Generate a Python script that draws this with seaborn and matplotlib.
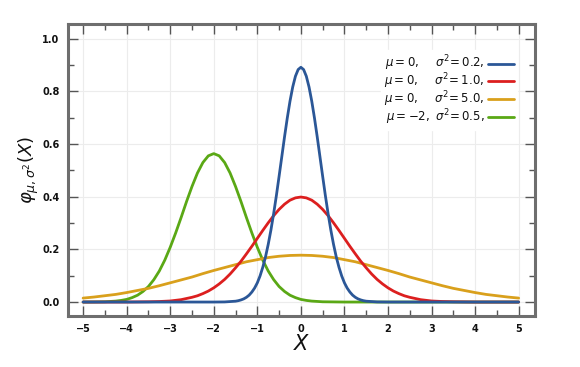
import numpy as np
import pandas as pd
import matplotlib
matplotlib.use('Agg')
import matplotlib.pyplot as plt
from matplotlib.ticker import MultipleLocator
import seaborn as sns

# curve values (denser where the curves bend)
x_blue = [-5.0, -4.0, -3.0, -2.0, -1.75,
          -1.5, -1.4375, -1.375, -1.3125, -1.25, -1.1875, -1.125, -1.0625,
          -1.0, -0.9375, -0.875, -0.8125, -0.75, -0.6875, -0.625, -0.5625,
          -0.5, -0.4375, -0.375, -0.3125, -0.25, -0.1875, -0.125, -0.0625,
          0.0, 0.0625, 0.125, 0.1875, 0.25, 0.3125, 0.375, 0.4375,
          0.5, 0.5625, 0.625, 0.6875, 0.75, 0.8125, 0.875, 0.9375,
          1.0, 1.0625, 1.125, 1.1875, 1.25, 1.3125, 1.375, 1.4375, 1.5,
          1.75, 2.0, 3.0, 4.0, 5.0]
blue_y = [0, 0, 0, 0, 0.0004,
          0.0032, 0.0051, 0.008, 0.012, 0.018, 0.0263, 0.038, 0.0531,
          0.073, 0.0991, 0.132, 0.1713, 0.219, 0.2737, 0.336, 0.4044,
          0.478, 0.5529, 0.628, 0.6988, 0.763, 0.817, 0.858, 0.8834,
          0.892, 0.8834, 0.858, 0.817, 0.763, 0.6988, 0.628, 0.5529,
          0.478, 0.4044, 0.336, 0.2737, 0.219, 0.1713, 0.132, 0.0991,
          0.073, 0.0531, 0.038, 0.0263, 0.018, 0.012, 0.008, 0.0051, 0.0032,
          0.0004, 0, 0, 0, 0]

x_red = [-5.0, -4.5, -4.0, -3.5, -3.25, -3.0, -2.75, -2.5,
         -2.375, -2.25, -2.125, -2.0, -1.875, -1.75, -1.625, -1.5,
         -1.375, -1.25, -1.125, -1.0, -0.875, -0.75, -0.625, -0.5,
         -0.375, -0.25, -0.125, 0.0, 0.125, 0.25, 0.375, 0.5,
         0.625, 0.75, 0.875, 1.0, 1.125, 1.25, 1.375, 1.5,
         1.625, 1.75, 1.875, 2.0, 2.125, 2.25, 2.375,
         2.5, 2.75, 3.0, 3.25, 3.5, 4.0, 4.5, 5.0]
red_y = [0, 0, 0, 0.001, 0.002, 0.004, 0.009, 0.018,
         0.0238, 0.032, 0.0417, 0.054, 0.0688, 0.086, 0.1065, 0.130,
         0.155, 0.183, 0.2119, 0.242, 0.272, 0.301, 0.3281, 0.352,
         0.3718, 0.387, 0.3958, 0.399, 0.3958, 0.387, 0.3718, 0.352,
         0.3281, 0.301, 0.272, 0.242, 0.2119, 0.183, 0.155, 0.130,
         0.1065, 0.086, 0.0688, 0.054, 0.0417, 0.032, 0.0238,
         0.018, 0.009, 0.004, 0.002, 0.001, 0, 0, 0]

x_orange = [-5.0, -4.75, -4.5, -4.25, -4.0, -3.75, -3.5, -3.25, -3.0, -2.75, -2.5, -2.25,
            -2.0, -1.75, -1.5, -1.25, -1.0, -0.75, -0.5, -0.25, 0.0, 0.25, 0.5, 0.75,
            1.0, 1.25, 1.5, 1.75, 2.0, 2.25, 2.5, 2.75, 3.0, 3.25, 3.5, 3.75, 4.0,
            4.25, 4.5, 4.75, 5.0]
orange_y = [0.015, 0.019, 0.024, 0.029, 0.036, 0.044, 0.052, 0.062, 0.073, 0.084, 0.095, 0.108,
            0.120, 0.131, 0.142, 0.153, 0.161, 0.169, 0.174, 0.177, 0.178, 0.177, 0.174, 0.169,
            0.161, 0.153, 0.142, 0.131, 0.120, 0.108, 0.095, 0.084, 0.073, 0.062, 0.052, 0.044, 0.036,
            0.029, 0.024, 0.019, 0.015]

x_green = [-5.0, -4.75, -4.5, -4.25, -4.125, -4.0, -3.875, -3.75, -3.625, -3.5,
           -3.375, -3.25, -3.125, -3.0, -2.875, -2.75, -2.625, -2.5, -2.375, -2.25,
           -2.125, -2.0, -1.875, -1.75, -1.625, -1.5, -1.375, -1.25, -1.125, -1.0,
           -0.875, -0.75, -0.625, -0.5, -0.375, -0.25, -0.125, 0.0, 0.125, 0.25,
           0.5, 1.0, 2.0, 3.0, 4.0, 5.0]
green_y = [0, 0.0003, 0.001, 0.0036, 0.0062, 0.010, 0.0168, 0.026, 0.0402, 0.059,
           0.0852, 0.118, 0.1591, 0.208, 0.2624, 0.321, 0.3818, 0.439, 0.4902, 0.530,
           0.5555, 0.564, 0.5555, 0.530, 0.4902, 0.439, 0.3818, 0.321, 0.2624, 0.208,
           0.1591, 0.118, 0.0852, 0.059, 0.0402, 0.026, 0.0168, 0.010, 0.0062, 0.0036,
           0.001, 0, 0, 0, 0, 0]

labels = [r'$\mu = 0,\quad\ \sigma^2\!= 0.2,$', r'$\mu = 0,\quad\ \sigma^2\!= 1.0,$',
          r'$\mu = 0,\quad\ \sigma^2\!= 5.0,$', r'$\mu = -2,\ \sigma^2\!= 0.5,$']
colors = ['#2b5797', '#dc1f1f', '#d9a01c', '#5aa815']

sns.set_theme(style='white')
plt.rcParams['font.family'] = ['DejaVu Sans']
plt.rcParams['mathtext.fontset'] = 'dejavusans'
plt.rcParams['text.color'] = '#111111'
plt.rcParams['axes.labelcolor'] = '#111111'

fig = plt.figure(figsize=(5.8, 3.67), dpi=100)
ax = fig.add_axes([0.117, 0.139, 0.805, 0.796])

lw = 2.0
series = [(x_green, green_y, 3), (x_orange, orange_y, 2), (x_red, red_y, 1), (x_blue, blue_y, 0)]
handles = {}
for xs, ys, i in series:
    sns.lineplot(x=xs, y=ys, ax=ax, color=colors[i], linewidth=lw)
    handles[i] = ax.lines[-1]

ax.xaxis.set_major_locator(MultipleLocator(1))
ax.xaxis.set_minor_locator(MultipleLocator(0.5))
ax.yaxis.set_minor_locator(MultipleLocator(0.1))
ax.grid(True, which='major', color='#ececec', linewidth=0.8)
ax.set_axisbelow(True)

ax.tick_params(which='both', direction='in', top=True, right=True, bottom=True, left=True,
               color='#555555', width=1.0, labelsize=7, pad=6, labelcolor='#111111')
ax.tick_params(which='major', length=7)
ax.tick_params(which='minor', length=4)
xt = [-5, -4, -3, -2, -1, 0, 1, 2, 3, 4, 5]
ax.set_xticks(xt)
ax.set_xticklabels([('\u2212%d' % -v if v < 0 else '%d' % v) for v in xt], fontweight='bold')
ax.set_yticks([0.0, 0.2, 0.4, 0.6, 0.8, 1.0])
ax.set_yticklabels(['0.0', '0.2', '0.4', '0.6', '0.8', '1.0'], fontweight='bold')
ax.set_xlim(-5.35, 5.37)
ax.set_ylim(-0.053, 1.057)

for sp in ax.spines.values():
    sp.set_color('#6e6e6e')
    sp.set_linewidth(2.2)

ax.set_xlabel(r'$X$', fontsize=15, labelpad=0)
ax.set_ylabel(r'$\varphi_{\mu,\sigma^2}(X)$', fontsize=13, labelpad=1)

leg = ax.legend([handles[i] for i in range(4)], labels, loc='upper right',
                bbox_to_anchor=(0.975, 0.93), markerfirst=False, fontsize=8.5,
                frameon=True, fancybox=False, framealpha=1, edgecolor='white',
                handlelength=2.2, handletextpad=0.25, labelspacing=-0.15, borderpad=0.3)
for t in leg.get_texts():
    t.set_color('#111111')

plt.savefig('out.png', dpi=100)
